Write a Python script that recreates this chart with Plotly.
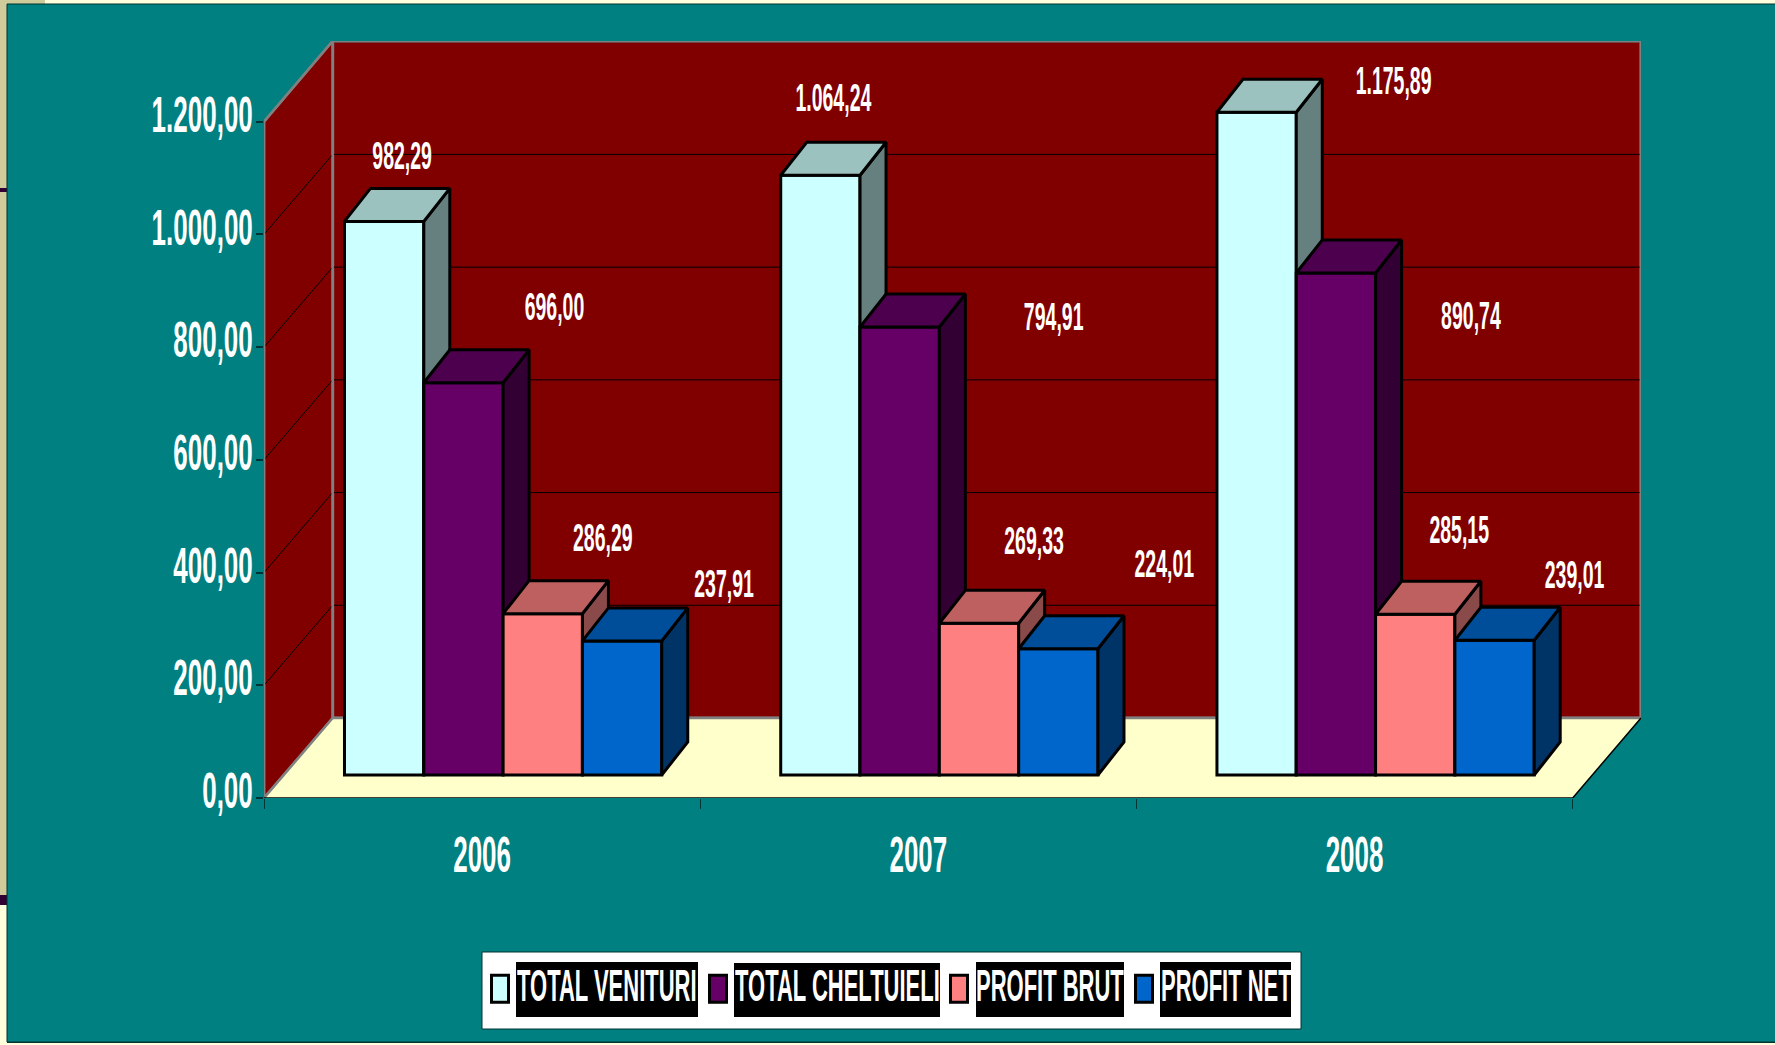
import plotly.graph_objects as go

categories = ["2006", "2007", "2008"]
total_venituri = [982.29, 1064.24, 1175.89]
total_cheltuieli = [696.00, 794.91, 890.74]
profit_brut = [286.29, 269.33, 285.15]
profit_net = [237.91, 224.01, 239.01]
y_ticks = [0, 200, 400, 600, 800, 1000, 1200]

series_names = ["TOTAL VENITURI", "TOTAL CHELTUIELI", "PROFIT BRUT", "PROFIT NET"]
series_values = [total_venituri, total_cheltuieli, profit_brut, profit_net]
front_cols = ["#CCFFFF", "#660066", "#FF8080", "#0066CC"]
top_cols = ["#9CC2BF", "#4D004D", "#BF6060", "#004D99"]
side_cols = ["#668080", "#330033", "#8A4A4A", "#003366"]

# label placement (pixels from the top-centre of each bar's front face)
label_dx = [[18, 13, 137], [91, 154, 135], [60, 55, 44], [102, 106, 80]]
label_dy = [[64, 76, 30], [75, 9, -44], [75, 81, 83], [56, 84, 64]]

W, H = 1775, 1045
L, R, T, B = 264, 1641, 41, 798
PX_X = (1572.7 - 264) / 3          # pixels per category
PX_Y = 676.3 / 1200                # pixels per value unit
X_MAX = (R - L) / PX_X
Y_MAX = (B - T) / PX_Y
px = lambda v: v / PX_X
py = lambda v: v / PX_Y

WALL_X, WALL_Y = px(68.7), py(80)
BAR_X, BAR_Y = px(21), py(23)
DEP_X, DEP_Y = px(26), py(33)
BAR_W = 1 / 5.5

FONT = "Liberation Sans"
RED, GREY, CREAM = "#800000", "#808080", "#FFFFCC"


def bar_left(c, s):
    return c + 0.5 - 2 * BAR_W + s * BAR_W + BAR_X


def poly(pts_list):
    xs, ys = [], []
    for pts in pts_list:
        xs += [p[0] for p in pts] + [pts[0][0], None]
        ys += [p[1] for p in pts] + [pts[0][1], None]
    return xs, ys


fig = go.Figure()


def add_poly(pts, fill, line, lw, axis=""):
    xs, ys = poly(pts)
    fig.add_trace(go.Scatter(x=xs, y=ys, fill="toself", fillcolor=fill, mode="lines",
                             line=dict(color=line, width=lw), showlegend=False,
                             hoverinfo="skip", cliponaxis=False,
                             xaxis="x" + axis, yaxis="y" + axis))


# walls and floor
add_poly([[(WALL_X, WALL_Y), (X_MAX, WALL_Y), (X_MAX, Y_MAX), (WALL_X, Y_MAX)]], RED, GREY, 3)
add_poly([[(0, 0), (WALL_X, WALL_Y), (WALL_X, Y_MAX), (0, 1200)]], RED, GREY, 2.5)
add_poly([[(0, 0), (3, 0), (X_MAX, WALL_Y), (WALL_X, WALL_Y)]], CREAM, CREAM, 0.5)

grid_x, grid_y = [], []
for v in y_ticks[1:-1]:
    grid_x += [0, WALL_X, X_MAX, None]
    grid_y += [v, v + WALL_Y, v + WALL_Y, None]
grid_x += [WALL_X, X_MAX, None]
grid_y += [1200 + WALL_Y, 1200 + WALL_Y, None]
fig.add_trace(go.Scatter(x=grid_x, y=grid_y, mode="lines", line=dict(color="#000000", width=1),
                         showlegend=False, hoverinfo="skip", cliponaxis=False))
# redraw wall/floor edges above grid
edge_x = [0, WALL_X, None, WALL_X, WALL_X, None, 0, WALL_X, None, WALL_X, X_MAX, None, X_MAX, X_MAX, None, WALL_X, X_MAX, None, 0, 0]
edge_y = [0, WALL_Y, None, WALL_Y, Y_MAX, None, 1200, Y_MAX, None, Y_MAX, Y_MAX, None, WALL_Y, Y_MAX, None, WALL_Y, WALL_Y, None, 0, 1200]
fig.add_trace(go.Scatter(x=edge_x, y=edge_y, mode="lines", line=dict(color=GREY, width=2.5),
                         showlegend=False, hoverinfo="skip", cliponaxis=False))
fig.add_trace(go.Scatter(x=[0, 3, X_MAX], y=[0, 0, WALL_Y], mode="lines", line=dict(color="#000000", width=1.5),
                         showlegend=False, hoverinfo="skip", cliponaxis=False))

# bars: each series in its own overlaid subplot so nearer bars cover earlier side faces
for s, vals in enumerate(series_values):
    ax = str(s + 2)
    lefts = [bar_left(c, s) for c in range(len(categories))]
    fig.add_trace(go.Bar(x=[l + BAR_W / 2 for l in lefts], y=vals, base=[BAR_Y] * len(vals),
                         width=BAR_W, name=series_names[s], cliponaxis=False,
                         marker=dict(color=front_cols[s], line=dict(color="#000000", width=3)),
                         hoverinfo="skip", xaxis="x" + ax, yaxis="y" + ax))
    sides, tops = [], []
    for l, v in zip(lefts, vals):
        r = l + BAR_W
        h = BAR_Y + v
        sides.append([(r, BAR_Y), (r + DEP_X, BAR_Y + DEP_Y), (r + DEP_X, h + DEP_Y), (r, h)])
        tops.append([(l, h), (r, h), (r + DEP_X, h + DEP_Y), (l + DEP_X, h + DEP_Y)])
    add_poly(sides, side_cols[s], "#000000", 3, ax)
    add_poly(tops, top_cols[s], "#000000", 3, ax)


def fmt(v):
    return f"{v:,.2f}".replace(",", "#").replace(".", ",").replace("#", ".")


for s, vals in enumerate(series_values):
    lefts = [bar_left(c, s) for c in range(len(categories))]
    fig.add_trace(go.Scatter(
        x=[l + BAR_W / 2 + px(label_dx[s][i]) for i, l in enumerate(lefts)],
        y=[BAR_Y + v + py(label_dy[s][i]) for i, v in enumerate(vals)],
        mode="text", text=[fmt(v) for v in vals], textposition="middle center",
        textfont=dict(family=FONT, size=19.5, color="#FFFFFF", weight="bold"),
        showlegend=False, hoverinfo="skip", cliponaxis=False, xaxis="x6", yaxis="y6"))


def pr(x0, y0, x1, y1, fill, line=None, lw=0):
    """Decorative rectangle given in page pixels."""
    return dict(type="rect", xref="paper", yref="paper", layer="below",
                x0=(x0 - L) / (R - L), x1=(x1 - L) / (R - L),
                y0=(B - y0) / (B - T), y1=(B - y1) / (B - T),
                fillcolor=fill, line=dict(color=line or fill, width=lw))


shapes = [
    pr(0, 0, W, 4, "#FFFFDD"),
    pr(0, 0, 45, 4, "#CFCB9B"),
    pr(0, 0, 7, 895, "#CFCB9B"),
    pr(0, 188, 7, 192, "#330033"),
    pr(0, 895, 7, 905, "#330033"),
    pr(0, 905, 7, H, "#FFFFDD"),
    pr(7, 3.5, W, 4.5, "#003333"),
    pr(6.5, 4, 7.5, 1042, "#003333"),
    pr(7, 1041.5, W, 1043, "#003333"),
    pr(7, 1043, W, H, "#FFFFDD"),
    pr(482, 952, 1301, 1029, "#FFFFFF", "#003333", 1),
    pr(516, 962, 698, 1017, "#000000"),
    pr(734, 963, 940, 1017, "#000000"),
    pr(976, 962, 1124, 1017, "#000000"),
    pr(1160, 962, 1291, 1017, "#000000"),
]

layout_axes = {}
for i in range(2, 7):
    layout_axes[f"xaxis{i}"] = dict(overlaying="x", range=[0, X_MAX], visible=False, fixedrange=True)
    layout_axes[f"yaxis{i}"] = dict(overlaying="y", range=[0, Y_MAX], visible=False, fixedrange=True)

fig.update_layout(
    width=W, height=H, autosize=False,
    margin=dict(l=L, r=W - R, t=T, b=H - B, pad=0),
    paper_bgcolor="#008080", plot_bgcolor="rgba(0,0,0,0)",
    barmode="overlay", separators=",.", shapes=shapes,
    font=dict(family=FONT, color="#FFFFFF"),
    xaxis=dict(range=[0, X_MAX], showgrid=False, zeroline=False, showline=False,
               tickmode="array", tickvals=[i + 0.5 for i in range(len(categories))], ticktext=categories,
               ticks="outside", ticklen=34, tickcolor="rgba(0,0,0,0)",
               tickfont=dict(family=FONT, size=26, color="#FFFFFF", weight="bold"),
               minor=dict(tickmode="array", tickvals=list(range(len(categories) + 1)),
                          ticks="outside", ticklen=10, tickcolor="#003333", tickwidth=1, showgrid=False)),
    yaxis=dict(range=[0, Y_MAX], showgrid=False, zeroline=False, showline=False,
               tickmode="array", tickvals=y_ticks, tickformat=",.2f",
               ticks="outside", ticklen=7, tickcolor="#003333", tickwidth=1.5,
               tickfont=dict(family=FONT, size=26, color="#FFFFFF", weight="bold")),
    legend=dict(orientation="h", xref="container", yref="container",
                x=480 / W, xanchor="left", y=(H - 968) / H, yanchor="top",
                bgcolor="rgba(0,0,0,0)", borderwidth=0, traceorder="normal",
                font=dict(family=FONT, size=22, color="#FFFFFF", weight="bold")),
    **layout_axes,
)

# The reference's text is a tall, condensed face: stretch the real text vertically,
# and set the legend entries to the reference's tighter spacing and taller swatches.
post = """
document.body.style.margin='0';document.body.style.overflow='hidden';
function stretchAll(){
  var rules=[['.ytick text',1.9,2,-7],['.xtick text',1.9,0,0],['.textpoint text',2.0,0,0],['.legendtext',2.0,-3,-4]];
  rules.forEach(function(r){
    document.querySelectorAll(r[0]).forEach(function(el){
      if(el.dataset.stretched)return;
      var b=el.getBBox(); if(!b.height)return;
      var cy=b.y+b.height/2, t=el.getAttribute('transform')||'';
      el.setAttribute('transform',t+' translate('+r[2]+','+(cy+r[3])+') scale(1,'+r[1]+') translate(0,'+(-cy)+')');
      el.dataset.stretched='1';
    });
  });
  var steps=[0,218,459,644], items=document.querySelectorAll('.legend .traces');
  items.forEach(function(g,i){
    if(g.dataset.moved||i>=steps.length)return;
    var m=/translate\\(([-\\d.]+)[ ,]+([-\\d.]+)\\)/.exec(g.getAttribute('transform')||'');
    if(!m)return;
    if(i==0)window.__lx=parseFloat(m[1]);
    g.setAttribute('transform','translate('+(window.__lx+steps[i])+','+m[2]+')');
    g.dataset.moved='1';
  });
  document.querySelectorAll('.legend .legendpoints path').forEach(function(p){
    p.setAttribute('d','M8.5,13.5H-8.5V-13.5H8.5Z');
  });
}
stretchAll();[0,100,400].forEach(function(d){setTimeout(stretchAll,d);});
"""
fig.write_html("out.html", config={"displayModeBar": False}, post_script=post)
